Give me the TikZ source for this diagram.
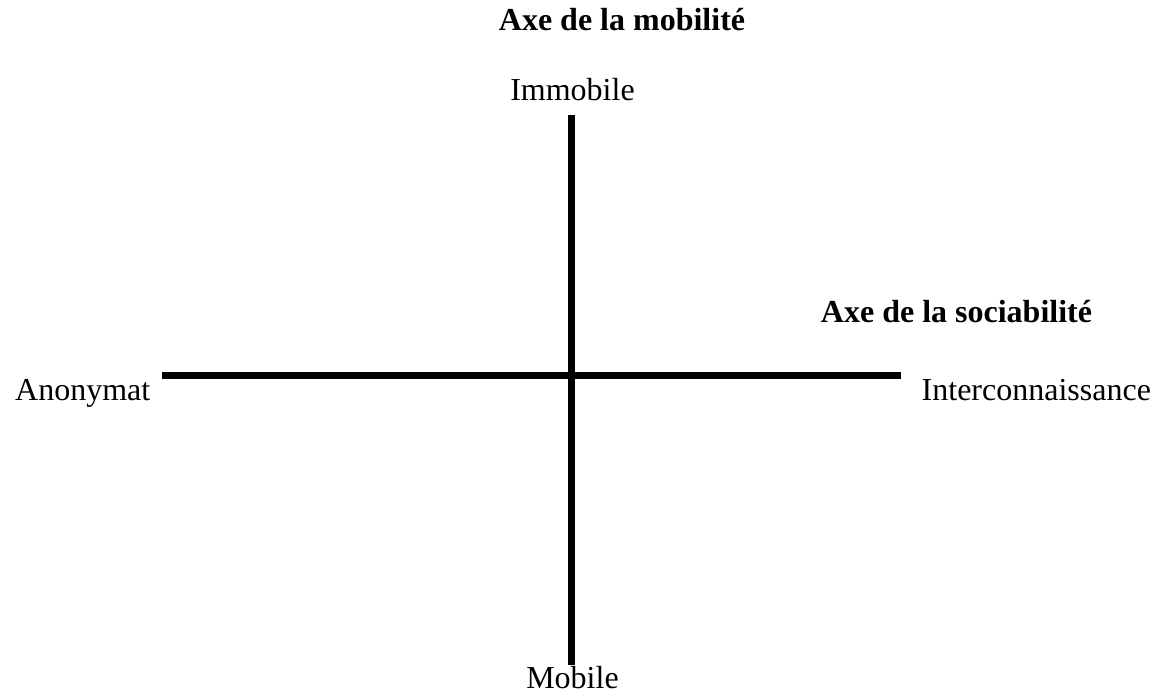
\documentclass[tikz,border=0pt]{standalone}
\usepackage{fontspec}
\setmainfont{Liberation Serif}
\begin{document}
\begin{tikzpicture}[x=1pt,y=-1pt,
  lbl/.style={inner sep=0pt,font=\fontsize{32}{38}\selectfont},
  ttl/.style={lbl,font=\fontsize{32}{38}\selectfont\bfseries},
  axis/.style={line width=7.5pt,line cap=butt}]
\useasboundingbox (0,0) rectangle (1156,699);
\node[ttl,anchor=base] (tm) at (622,30) {Axe de la mobilité};
\node[ttl,anchor=base] (ts) at (956.5,322) {Axe de la sociabilité};
\node[lbl,anchor=base] (imm) at (572.5,100) {Immobile};
\node[lbl,anchor=base] (mob) at (572.5,688) {Mobile};
\node[lbl,anchor=base west] (ano) at (15,400) {Anonymat};
\node[lbl,anchor=base west] (inter) at (921.5,400) {Interconnaissance};
\coordinate (vt) at (571.5,115);
\coordinate (vb) at (571.5,665);
\coordinate (hl) at (162,375.5);
\coordinate (hr) at (901,375.5);
\draw[axis] (vt) -- (vb);
\draw[axis] (hl) -- (hr);
\end{tikzpicture}
\end{document}
